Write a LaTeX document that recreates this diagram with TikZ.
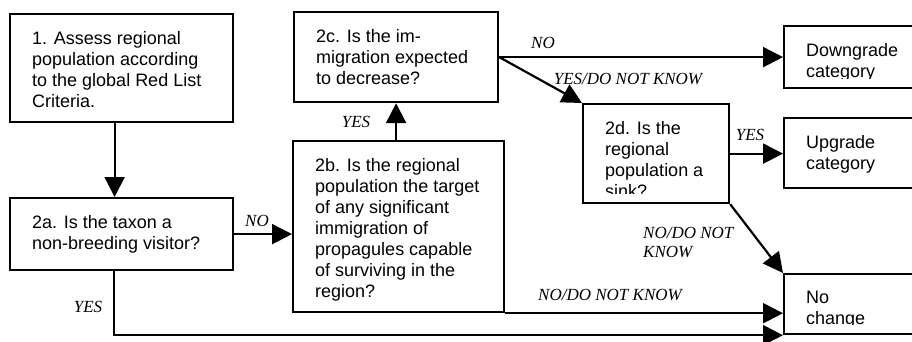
\documentclass[tikz,border=0pt]{standalone}
\usepackage{fontspec}
\setmainfont{Liberation Sans}
\newfontfamily\labserif{Liberation Serif}
\usetikzlibrary{arrows.meta}
\newcommand{\boxfont}{\fontsize{18}{21}\selectfont}
\newcommand{\labfont}{\labserif\itshape\fontsize{17}{19}\selectfont}
\tikzset{
  qbox/.style n args={3}{draw, line width=2.2pt, inner sep=0pt, anchor=north west,
    minimum width=#1pt, minimum height=#2pt,
    path picture={
      \clip ([yshift=10pt]path picture bounding box.south west) rectangle (path picture bounding box.north east);
      \node[anchor=north west, align=left, inner sep=0pt, draw=none,
            minimum width=0pt, minimum height=0pt, font=\boxfont]
        at ([xshift=21pt,yshift=-16pt]path picture bounding box.north west) {#3};
    }},
  lab/.style={font=\labfont, inner sep=0pt},
  link/.style={line width=2.2pt, -{Triangle[length=20pt,width=20pt]}}
}
\begin{document}
\begin{tikzpicture}[x=1pt,y=-1pt]
  \useasboundingbox (0,0) rectangle (912,342);
  \clip (0,0) rectangle (912,342);

  % Boxes
  \node[qbox={223}{108}{1. Assess regional\\population according\\to the global Red List\\Criteria.}] (assess) at (9,13) {};
  \node[qbox={223}{72}{2a. Is the taxon a\\non-breeding visitor?}] (visitor) at (9,197) {};
  \node[qbox={211}{171}{2b. Is the regional\\population the target\\of any significant\\immigration of\\propagules capable\\of surviving in the\\region?}] (target) at (292,140) {};
  \node[qbox={204}{90}{2c. Is the im-\\migration expected\\to decrease?}] (decrease) at (293,11) {};
  \node[qbox={146}{99}{2d. Is the\\regional\\population a\\sink?}] (sink) at (582,103) {};
  \node[qbox={140}{62}{Downgrade\\category}] (downgrade) at (783,25) {};
  \node[qbox={140}{70}{Upgrade\\category}] (upgrade) at (783,117) {};
  \node[qbox={140}{60}{No\\change}] (nochange) at (783,273) {};

  % Connectors
  \draw[link] ([xshift=-7pt]assess.south) -- ([xshift=-7pt]visitor.north);
  \draw[link] (visitor.east) -- (visitor.east -| target.west);
  \draw[link] (decrease.south |- target.north) -- (decrease.south);
  \draw[link] (decrease.east) -- (decrease.east -| downgrade.west);
  \draw[link] (decrease.east) -- (sink.north west);
  \draw[link] (sink.east) -- (sink.east -| upgrade.west);
  \draw[link] (sink.south east) -- (nochange.north west);
  \draw[link] (target.south east) -- (target.south east -| nochange.west);
  \draw[link] ([xshift=-8pt]visitor.south) |- (nochange.south west);

  % Labels
  \node[lab] (noA) at (257,221) {NO};
  \node[lab] (yesA) at (88,307) {YES};
  \node[lab] (yesB) at (356,122) {YES};
  \node[lab] (noC) at (543,43) {NO};
  \node[lab] (yesC) at (628,79) {YES/DO NOT KNOW};
  \node[lab] (yesD) at (750,135) {YES};
  \node[lab, anchor=west, align=left] (noD) at (643,242) {NO/DO NOT\\KNOW};
  \node[lab] (noB) at (610,295) {NO/DO NOT KNOW};
\end{tikzpicture}
\end{document}
